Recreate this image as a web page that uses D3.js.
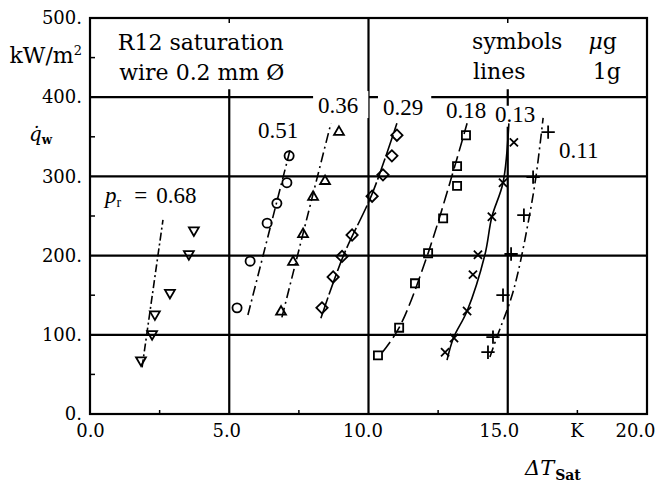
<!DOCTYPE html>
<html lang="en">
<head>
<meta charset="UTF-8">
<title>R12 pool boiling, wire 0.2 mm</title>
<style>
  body, html { margin: 0; padding: 0; background: #fff; }
  svg { display: block; }
  .frame { fill: none; stroke: #000; stroke-width: 2.2px; }
  .grid { stroke: #000; stroke-width: 2.2px; }
  .minor { stroke: #000; stroke-width: 1.5px; }
  .tick text { font-family: "DejaVu Serif", serif; font-size: 18px; fill: #000; }
  .word { font-family: "DejaVu Serif", serif; font-size: 22px; fill: #000; }
  .plabel { font-family: "Liberation Serif", serif; font-size: 23px; fill: #000; }
  .curve { fill: none; stroke: #000; stroke-width: 1.6px; }
  .mark { fill: none; stroke: #000; stroke-width: 1.8px; }
</style>
</head>
<body>
<script src="https://cdn.jsdelivr.net/npm/d3@7"></script>
<script>
// reduced pressure of each series
const pressures = ["0.68", "0.51", "0.36", "0.29", "0.18", "0.13", "0.11"];

// measured points (symbols, microgravity): [dT_sat K, q_w kW/m2]
const pts068 = [[1.83, 68], [2.23, 101], [2.33, 126], [2.87, 153], [3.55, 202], [3.73, 232]];
const pts051 = [[5.28, 134], [5.75, 193], [6.36, 241], [6.71, 266], [7.07, 292], [7.15, 326]];
const pts036 = [[6.86, 129], [7.29, 192], [7.65, 227], [8.01, 274], [8.44, 294], [8.94, 356]];
const pts029 = [[8.33, 134], [8.73, 173], [9.05, 199], [9.41, 226], [10.13, 275], [10.52, 302], [10.84, 326], [11.02, 352]];
const pts018 = [[10.34, 74], [11.10, 109], [11.67, 165], [12.14, 203], [12.68, 247], [13.18, 288], [13.18, 313], [13.50, 352]];
const pts013 = [[12.75, 78], [13.07, 96], [13.54, 130], [13.75, 176], [13.93, 201], [14.43, 249], [14.83, 292], [15.22, 343]];
const pts011 = [[14.29, 78], [14.47, 97], [14.83, 150], [15.12, 202], [15.58, 251], [15.91, 299], [16.45, 356]];

// correlation lines (1g)
const line068 = [[1.87, 59], [2.62, 245]];
const line051 = [[5.67, 125], [7.18, 333]];
const line036 = [[6.89, 122], [8.65, 367]];
const line029 = [[8.29, 121], [9.10, 200], [10.13, 278], [11.02, 367]];
const line018 = [[10.50, 78], [11.10, 109], [12.14, 203], [13.54, 367]];
const line013 = [[12.82, 68], [13.05, 96], [13.54, 130], [14.18, 201], [14.43, 249], [14.83, 292], [15.04, 367]];
const line011 = [[14.36, 72], [14.61, 97], [15.12, 146], [15.37, 179], [15.73, 241], [16.01, 299], [16.27, 374]];

// label anchors [dT, q] for pressure labels
const labelPos = [[0.54, 266], [6.03, 348], [8.19, 380], [10.52, 377], [12.78, 374], [14.54, 369], [16.84, 323]];

const yTicks = [0, 100, 200, 300, 400, 500];
const xTicks = [0, 5, 10, 15, 17.5, 20];
const yMinor = [50, 150, 250, 350, 450];
const xMinor = [2.5, 7.5, 12.5, 17.5];
const hGrid = [100, 200, 300, 400];
const vGrid = [5, 10, 15];

const width = 655, height = 484;
const x = d3.scaleLinear().domain([0, 20]).range([90, 647]);
const y = d3.scaleLinear().domain([0, 500]).range([414, 18]);

const svg = d3.select("body").append("svg")
    .attr("width", width)
    .attr("height", height);

// grid lines
svg.selectAll(".hgrid")
    .data(hGrid)
    .enter().append("line")
    .attr("class", "grid")
    .attr("x1", x(0)).attr("x2", x(20))
    .attr("y1", d => y(d)).attr("y2", d => y(d));

svg.selectAll(".vgrid")
    .data(vGrid)
    .enter().append("line")
    .attr("class", "grid")
    .attr("x1", d => x(d)).attr("x2", d => x(d))
    .attr("y1", d => d === 10 ? y(500) : y(410))
    .attr("y2", y(0));

// minor ticks
svg.selectAll(".ymin")
    .data(yMinor)
    .enter().append("line")
    .attr("class", "minor")
    .attr("x1", x(0)).attr("x2", x(0) + 5)
    .attr("y1", d => y(d)).attr("y2", d => y(d));

svg.selectAll(".xmin")
    .data(xMinor)
    .enter().append("line")
    .attr("class", "minor")
    .attr("x1", d => x(d)).attr("x2", d => x(d))
    .attr("y1", y(0)).attr("y2", y(0) - 4);

svg.selectAll(".xtop")
    .data([5, 15])
    .enter().append("line")
    .attr("class", "minor")
    .attr("x1", d => x(d)).attr("x2", d => x(d))
    .attr("y1", y(500)).attr("y2", y(500) + 5);

svg.append("rect")
    .attr("class", "frame")
    .attr("x", x(0)).attr("y", y(500))
    .attr("width", x(20) - x(0))
    .attr("height", y(0) - y(500));

// axes labels
const yAxis = svg.append("g")
    .attr("transform", `translate(${x(0)},0)`)
    .call(d3.axisLeft(y).tickValues(yTicks).tickFormat(d => d + ".").tickSize(0).tickPadding(8));
yAxis.select(".domain").remove();

const xAxis = svg.append("g")
    .attr("transform", `translate(0,${y(0)})`)
    .call(d3.axisBottom(x).tickValues(xTicks)
        .tickFormat(d => d === 17.5 ? "K" : d3.format(".1f")(d))
        .tickSize(0).tickPadding(10));
xAxis.select(".domain").remove();
xAxis.selectAll(".tick text").attr("dx", (d, i) => d === 17.5 ? -1 : -Math.min(i, 4) * 3);

svg.append("text")
    .attr("class", "word")
    .attr("x", x(0) - 8).attr("y", y(450) + 5)
    .attr("text-anchor", "end")
    .html('kW/m<tspan font-size="13" dy="-8">2</tspan>');

const qlab = svg.append("text")
    .attr("class", "word")
    .attr("x", 29).attr("y", y(345));
qlab.append("tspan").attr("font-style", "italic").attr("font-size", 20).text("q\u0307");
qlab.append("tspan").attr("font-size", 12).attr("font-weight", "bold").attr("dy", 3).text("w");

const dT = svg.append("text")
    .attr("class", "word")
    .attr("x", 525).attr("y", 475);
dT.append("tspan").attr("font-style", "italic").attr("font-size", 21).text("\u0394T");
dT.append("tspan").attr("font-size", 14).attr("font-weight", "bold").attr("dy", 5).attr("dx", 1).text("Sat");

// header text
svg.append("text").attr("class", "word").attr("x", x(1.0)).attr("y", y(460)).text("R12 saturation");
svg.append("text").attr("class", "word").attr("x", x(1.05)).attr("y", y(422)).text("wire 0.2 mm \u00D8");
svg.append("text").attr("class", "word").attr("x", x(13.72)).attr("y", y(461)).text("symbols");
svg.append("text").attr("class", "word").attr("x", x(13.75)).attr("y", y(423)).text("lines");
svg.append("text").attr("class", "word").attr("x", x(17.9)).attr("y", y(461))
    .html('<tspan font-style="italic">\u03BC</tspan>g');
svg.append("text").attr("class", "word").attr("x", x(18.05)).attr("y", y(423)).text("1g");

// pressure labels, some with a white knock-out behind them
const knock = { 2: [5, 10, -2], 3: [5, 8, -2], 5: [3, 3, 4] }; // [left pad, right pad, top offset]
const labG = svg.append("g");
const labels = labG.selectAll("text")
    .data(pressures)
    .enter().append("text")
    .attr("class", "plabel")
    .attr("x", (d, i) => x(labelPos[i][0]))
    .attr("y", (d, i) => y(labelPos[i][1]));
labels.each(function (d, i) {
    const t = d3.select(this);
    if (i === 0) {
        t.append("tspan").attr("font-style", "italic").text("p");
        t.append("tspan").attr("font-size", 14).attr("dy", 4).text("r");
        t.append("tspan").attr("dy", -4).attr("dx", 13).text("=");
        t.append("tspan").attr("dx", 9).text(d);
    } else {
        t.text(d);
    }
});
labels.each(function (d, i) {
    const k = knock[i];
    if (!k) return;
    const b = this.getBBox();
    labG.insert("rect", "text")
        .attr("x", b.x - k[0]).attr("y", b.y + k[2])
        .attr("width", b.width + k[0] + k[1]).attr("height", b.height - k[2])
        .attr("fill", "#fff");
});

// correlation lines
const lineGen = d3.line().x(d => x(d[0])).y(d => y(d[1])).curve(d3.curveCatmullRom);
const lines = [line068, line051, line036, line029, line018, line013, line011];
const dashes = ["8,3,2,3", "10,4,2,4", "10,4,2,4", "22,3", "13,5", null, "10,4,2,4"];

svg.selectAll(".curve")
    .data(lines)
    .enter().append("path")
    .attr("class", "curve")
    .attr("stroke-dasharray", (d, i) => dashes[i])
    .attr("d", lineGen);

// symbols
const series = [pts068, pts051, pts036, pts029, pts018, pts013, pts011];
const shapes = [
    { type: d3.symbolTriangle2, size: 70, rot: 180 },
    { type: d3.symbolCircle, size: 66, rot: 0 },
    { type: d3.symbolTriangle2, size: 70, rot: 0 },
    { type: d3.symbolSquare, size: 64, rot: 45 },
    { type: d3.symbolSquare, size: 66, rot: 0 },
    { type: d3.symbolTimes, size: 45, rot: 0 },
    { type: d3.symbolPlus, size: 60, rot: 0 }
];

series.forEach((pts, i) => {
    const s = shapes[i];
    svg.append("g").selectAll("path")
        .data(pts)
        .enter().append("path")
        .attr("class", "mark")
        .attr("transform", d => `translate(${x(d[0])},${y(d[1])}) rotate(${s.rot})`)
        .attr("d", d3.symbol().type(s.type).size(s.size));
});
</script>
</body>
</html>
